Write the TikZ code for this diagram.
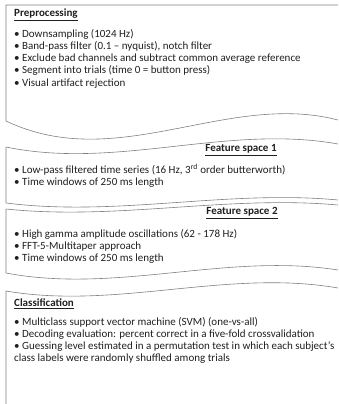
\documentclass[tikz,border=0pt]{standalone}
\usepackage{fontspec}
\setmainfont{Carlito}
\usetikzlibrary{positioning}
\definecolor{panelgray}{HTML}{808080}
\definecolor{textgray}{HTML}{1F1F1F}
\tikzset{
panel/.style={draw=panelgray, line width=0.6pt}, % outline of each panel
head/.style={font=\fontsize{11}{12}\selectfont\bfseries, text=textgray, inner sep=0pt}, % panel titles
items/.style={align=left, font=\fontsize{11}{12.2}\selectfont, text=textgray, inner sep=0pt}, % bullet lists
}

\begin{document}
\begin{tikzpicture}[x=1pt, y=-1pt]
\useasboundingbox (0,0) rectangle (338,404);
% panels
\draw[panel] (338,5) -- (6,5) -- (6,121)
  .. controls (117,174) and (227,91) .. (338,120);
\draw[panel] (6,147) .. controls (117,170) and (227,124) .. (338,144);
\draw[panel] (6,147) -- (6,203)
  .. controls (117,217) and (227,189.5) .. (338,200);
\draw[panel] (6,209) .. controls (117,220.6) and (227,195) .. (338,205);
\draw[panel] (6,209) -- (6,273)
  .. controls (117,294) and (227,252.4) .. (338,270);
\draw[panel] (6,404) -- (6,291)
  .. controls (117,310) and (227,268.7) .. (338,288);
% titles
\node[head, anchor=west] (pre) at (14,15) {\underline{Preprocessing}};
\node[head] (fs1) at (241,150) {\underline{Feature space 1}};
\node[head] (fs2) at (242,213) {\underline{Feature space 2}};
\node[head, anchor=west] (cls) at (14,304) {\underline{Classification}};
% lists
\node[items, anchor=north west] (prelist) at (14,29) {%
\textbullet\ Downsampling (1024 Hz)\\
\textbullet\ Band-pass filter (0.1 -- nyquist), notch filter\\
\textbullet\ Exclude bad channels and subtract common average reference\\
\textbullet\ Segment into trials (time 0 = button press)\\
\textbullet\ Visual artifact rejection};
\node[items, anchor=north west] (fs1list) at (14,164) {%
\textbullet\ Low-pass filtered time series (16 Hz, 3\textsuperscript{rd} order butterworth)\\
\textbullet\ Time windows of 250 ms length};
\node[items, anchor=north west] (fs2list) at (14,229) {%
\textbullet\ High gamma amplitude oscillations (62 - 178 Hz)\\
\textbullet\ FFT-5-Multitaper approach\\
\textbullet\ Time windows of 250 ms length};
\node[items, anchor=north west] (clslist) at (14,317) {%
\textbullet\ Multiclass support vector machine (SVM) (one-vs-all)\\
\textbullet\ Decoding evaluation: percent correct in a five-fold crossvalidation\\
\textbullet\ Guessing level estimated in a permutation test in which each subject's\\
class labels were randomly shuffled among trials};
\end{tikzpicture}
\end{document}
